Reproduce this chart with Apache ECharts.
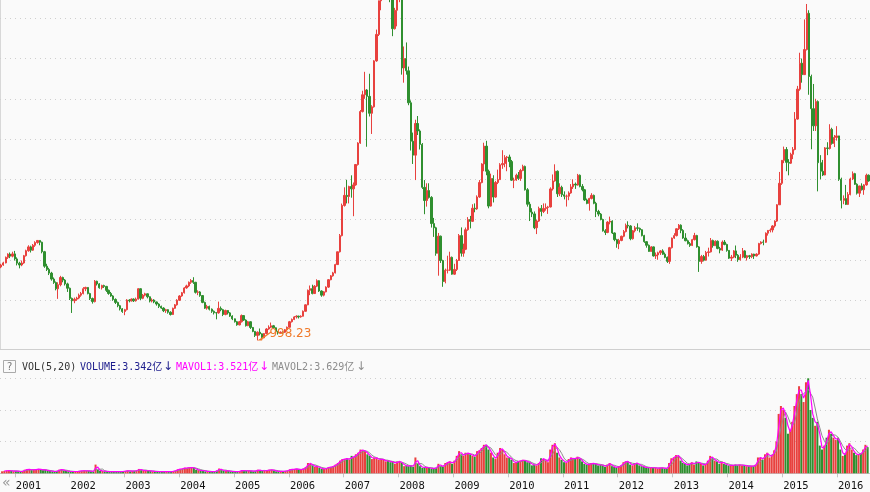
<!DOCTYPE html>
<html><head><meta charset="utf-8">
<script src="https://cdn.jsdelivr.net/npm/echarts@6/dist/echarts.min.js"></script>
<style>html,body{margin:0;padding:0;background:#fafafa;overflow:hidden}#c{width:870px;height:492px}</style>
</head><body><div id="c"></div>
<script>
// Shanghai Composite, half-month candles [open, close, low, high], Oct 2000 - Jul 2016
const firstYear = 2000, firstMonth = 10;
const halfMonthDays = [8, 23];
const k2000 = [[1910,1935,1895,1950],[1935,1961,1925,1975],[1961,2030,1955,2040],[2030,2070,2010,2080],[2070,2045,2020,2090],[2045,2073,2030,2100]];
const k2001 = [[2073,2010,1990,2110],[2010,1958,1930,2030],[1958,1935,1893,1975],[1935,1960,1920,1990],[1960,2050,1950,2060],[2050,2112,2040,2125],[2112,2160,2100,2180],[2160,2119,2090,2175],[2119,2180,2110,2195],[2180,2214,2160,2230],[2214,2240,2200,2245],[2240,2218,2180,2242],[2218,2100,2080,2225],[2100,1920,1900,2110],[1920,1880,1860,1950],[1880,1834,1810,1900],[1834,1760,1740,1850],[1760,1718,1700,1780],[1718,1640,1620,1730],[1640,1690,1514,1720],[1690,1780,1670,1800],[1780,1747,1720,1790],[1747,1700,1680,1760],[1700,1646,1600,1715]];
const k2002 = [[1646,1520,1500,1655],[1520,1491,1339,1530],[1491,1510,1460,1530],[1510,1524,1490,1540],[1524,1560,1510,1580],[1560,1580,1540,1600],[1580,1640,1570,1660],[1640,1656,1610,1665],[1656,1580,1570,1660],[1580,1518,1500,1590],[1518,1480,1455,1530],[1480,1733,1470,1748],[1733,1700,1680,1740],[1700,1652,1640,1710],[1652,1680,1630,1690],[1680,1669,1650,1690],[1669,1620,1600,1675],[1620,1581,1565,1630],[1581,1550,1540,1600],[1550,1507,1490,1560],[1507,1470,1450,1520],[1470,1429,1410,1480],[1429,1390,1370,1440],[1390,1357,1340,1400]];
const k2003 = [[1357,1380,1311,1390],[1380,1499,1370,1510],[1499,1490,1470,1510],[1490,1511,1480,1520],[1511,1490,1475,1520],[1490,1511,1480,1530],[1511,1640,1505,1649],[1640,1521,1500,1645],[1521,1560,1510,1575],[1560,1577,1545,1590],[1577,1540,1520,1580],[1540,1487,1470,1545],[1487,1500,1470,1520],[1500,1476,1460,1510],[1476,1450,1430,1480],[1450,1421,1400,1460],[1421,1400,1390,1430],[1400,1367,1350,1410],[1367,1380,1340,1390],[1380,1348,1330,1385],[1348,1320,1307,1360],[1320,1397,1315,1405],[1397,1440,1390,1450],[1440,1497,1430,1510]];
const k2004 = [[1497,1550,1490,1560],[1550,1590,1540,1600],[1590,1650,1580,1660],[1650,1675,1640,1690],[1675,1720,1660,1730],[1720,1742,1700,1760],[1742,1720,1700,1783],[1720,1595,1580,1725],[1595,1600,1560,1620],[1600,1555,1540,1610],[1555,1470,1460,1560],[1470,1399,1390,1480],[1399,1420,1380,1440],[1420,1386,1370,1430],[1386,1360,1340,1395],[1360,1342,1320,1370],[1342,1340,1260,1350],[1340,1396,1330,1480],[1396,1380,1360,1420],[1380,1320,1300,1390],[1320,1370,1310,1380],[1370,1340,1320,1375],[1340,1300,1290,1350],[1300,1266,1250,1310]];
const k2005 = [[1266,1230,1220,1270],[1230,1191,1180,1240],[1191,1230,1185,1240],[1230,1306,1220,1320],[1306,1250,1240,1310],[1250,1181,1170,1260],[1181,1230,1175,1240],[1230,1159,1140,1235],[1159,1110,1100,1165],[1110,1060,1040,1115],[1060,1100,998.23,1110],[1100,1080,1060,1146],[1080,1030,1004,1085],[1030,1083,1025,1090],[1083,1140,1075,1150],[1140,1162,1130,1185],[1162,1180,1150,1220],[1180,1155,1140,1190],[1155,1110,1100,1160],[1110,1092,1070,1115],[1092,1100,1085,1110],[1100,1099,1080,1110],[1099,1130,1090,1140],[1130,1161,1120,1170]];
const k2006 = [[1161,1230,1160,1240],[1230,1258,1220,1270],[1258,1290,1250,1300],[1290,1299,1270,1310],[1299,1290,1270,1305],[1290,1298,1280,1310],[1298,1360,1295,1370],[1360,1440,1355,1445],[1440,1620,1435,1630],[1620,1641,1560,1680],[1641,1580,1570,1690],[1580,1672,1575,1685],[1672,1740,1660,1757],[1740,1612,1600,1745],[1612,1560,1540,1620],[1560,1601,1545,1610],[1601,1660,1595,1670],[1660,1752,1650,1760],[1752,1800,1745,1810],[1800,1837,1790,1850],[1837,1940,1830,1950],[1940,2099,1935,2100],[2099,2300,2090,2320],[2300,2675,2290,2698]];
const k2007 = [[2675,2800,2660,2900],[2800,2786,2700,2994],[2786,2910,2700,2920],[2910,2881,2771,3049],[2881,2930,2541,2960],[2930,3183,2920,3190],[3183,3450,3170,3460],[3450,3841,3440,3860],[3841,4050,3830,4100],[4050,4109,4000,4335],[4109,4030,3404,4120],[4030,3820,3780,4311],[3820,3900,3563,3920],[3900,4471,3890,4480],[4471,4800,4460,4860],[4800,5218,4780,5220],[5218,5300,5100,5400],[5300,5552,5290,5560],[5552,6030,5540,6100],[6030,5954,5460,6124],[5954,5300,5200,5950],[5300,4871,4778,5320],[4871,5100,4860,5130],[5100,5262,4900,5280]];
const k2008 = [[5262,5400,5200,5522],[5400,4383,4300,5450],[4383,4500,4200,4650],[4500,4348,4300,4700],[4348,3950,3920,4400],[3950,3473,3357,3980],[3473,3300,3190,3580],[3300,3693,2990,3740],[3693,3600,3550,3786],[3600,3433,3370,3620],[3433,2900,2880,3450],[2900,2736,2566,2990],[2736,2860,2660,2950],[2860,2775,2760,2950],[2775,2450,2400,2790],[2450,2397,2284,2520],[2397,2080,2050,2410],[2080,2293,1802,2333],[2293,1990,1960,2300],[1990,1729,1664,2000],[1729,1870,1707,1890],[1870,1871,1830,2050],[1871,2030,1860,2100],[2030,1821,1814,2040]];
const k2009 = [[1821,1880,1814,1950],[1880,1991,1860,2010],[1991,2300,1985,2320],[2300,2082,2040,2402],[2082,2130,2037,2200],[2130,2373,2120,2400],[2373,2500,2360,2530],[2500,2477,2390,2545],[2477,2640,2470,2690],[2640,2632,2590,2700],[2632,2780,2620,2800],[2780,2959,2770,2990],[2959,3190,2950,3200],[3190,3412,3100,3454],[3412,3100,3050,3478],[3100,2667,2639,3120],[2667,3010,2660,3070],[3010,2779,2712,3050],[2779,2960,2770,2980],[2960,2996,2940,3120],[2996,3180,2990,3200],[3180,3195,3130,3361],[3195,3270,3150,3300],[3270,3277,3100,3290]];
const k2010 = [[3277,3220,3150,3306],[3220,2989,2980,3240],[2989,2990,2890,3020],[2990,3051,2980,3070],[3051,3010,2990,3090],[3010,3109,2980,3130],[3109,3160,3100,3181],[3160,2870,2860,3170],[2870,2690,2660,2890],[2690,2592,2481,2720],[2592,2570,2530,2640],[2570,2398,2380,2600],[2398,2480,2319,2500],[2480,2638,2470,2660],[2638,2600,2540,2680],[2600,2638,2580,2700],[2638,2650,2610,2700],[2650,2656,2570,2670],[2656,2880,2650,2900],[2880,2979,2860,3060],[2979,3100,2970,3186],[3100,2820,2780,3110],[2820,2900,2790,2950],[2900,2808,2780,2920]];
const k2011 = [[2808,2790,2750,2850],[2790,2790,2661,2810],[2790,2830,2740,2850],[2830,2905,2820,2940],[2905,2940,2880,3000],[2940,2928,2880,2960],[2928,3050,2920,3067],[3050,2911,2900,3060],[2911,2870,2850,2940],[2870,2743,2730,2880],[2743,2700,2690,2760],[2700,2762,2610,2770],[2762,2800,2750,2827],[2800,2701,2690,2810],[2701,2600,2530,2720],[2600,2567,2540,2620],[2567,2500,2490,2580],[2500,2359,2350,2510],[2359,2340,2307,2380],[2340,2468,2330,2480],[2468,2480,2440,2536],[2480,2333,2320,2490],[2333,2250,2230,2340],[2250,2199,2149,2260]];
const k2012 = [[2199,2240,2132,2260],[2240,2292,2230,2300],[2292,2350,2280,2370],[2350,2428,2340,2450],[2428,2420,2390,2478],[2420,2262,2242,2430],[2262,2360,2250,2370],[2360,2397,2340,2420],[2397,2390,2360,2453],[2390,2373,2340,2400],[2373,2300,2290,2380],[2300,2225,2210,2310],[2225,2180,2150,2230],[2180,2103,2100,2190],[2103,2160,2100,2170],[2160,2047,2040,2165],[2047,2060,2010,2090],[2060,2086,2000,2100],[2086,2110,2060,2120],[2110,2069,2060,2130],[2069,2030,2020,2090],[2030,1980,1960,2040],[1980,2150,1949,2160],[2150,2269,2140,2276]];
const k2013 = [[2269,2300,2260,2330],[2300,2385,2290,2390],[2385,2430,2370,2444],[2430,2365,2330,2440],[2365,2270,2260,2380],[2270,2236,2230,2330],[2236,2200,2190,2250],[2200,2178,2160,2220],[2178,2250,2170,2260],[2250,2301,2240,2334],[2301,2160,2150,2310],[2160,1979,1849,2170],[1979,2040,1950,2060],[2040,1994,1980,2060],[1994,2090,1990,2110],[2090,2098,2040,2150],[2098,2240,2090,2270],[2240,2175,2150,2250],[2175,2230,2170,2242],[2230,2141,2130,2240],[2141,2120,2080,2160],[2120,2220,2110,2240],[2220,2190,2180,2245],[2190,2116,2100,2200]];
const k2014 = [[2116,2020,2010,2120],[2020,2033,1984,2060],[2033,2110,2020,2120],[2110,2056,2020,2177],[2056,2000,1974,2070],[2000,2033,1990,2070],[2033,2110,2020,2146],[2110,2026,2020,2120],[2026,2050,1990,2060],[2050,2039,2010,2060],[2039,2070,2020,2080],[2070,2048,2010,2075],[2048,2070,2040,2080],[2070,2201,2060,2210],[2201,2220,2190,2230],[2220,2217,2180,2250],[2217,2330,2210,2340],[2330,2364,2300,2370],[2364,2370,2340,2390],[2370,2420,2340,2430],[2420,2480,2400,2490],[2480,2683,2470,2690],[2683,2950,2680,3091],[2950,3235,2930,3240]];
const k2015 = [[3235,3370,3200,3406],[3370,3210,3100,3400],[3210,3200,3049,3250],[3200,3310,3190,3330],[3310,3370,3250,3400],[3370,3748,3360,3835],[3748,4120,3740,4160],[4120,4442,4100,4572],[4442,4300,4200,4500],[4300,4612,4300,4986],[4612,5062,4600,5178],[5062,4277,4050,5100],[4277,3877,3373,4300],[3877,3664,3600,4184],[3664,3965,3600,4000],[3965,3206,2850,3980],[3206,3100,3000,3300],[3100,3053,3040,3240],[3053,3390,3050,3400],[3390,3383,3300,3460],[3383,3620,3370,3684],[3620,3445,3430,3640],[3445,3520,3400,3550],[3520,3539,3480,3660]];
const k2016 = [[3539,3000,2980,3540],[3000,2738,2638,3020],[2738,2760,2690,2800],[2760,2688,2680,2930],[2688,2810,2680,2840],[2810,3004,2800,3020],[3004,3070,2990,3097],[3070,2938,2930,3080],[2938,2827,2810,2950],[2827,2917,2780,2920],[2917,2870,2860,2950],[2870,2930,2807,2940],[2930,3050,2920,3070],[3050,2979,2970,3060]];

// volume, 亿 (average per day in each half month)
const v2000 = [0.25,0.3,0.35,0.35,0.3,0.25];
const v2001 = [0.3,0.25,0.2,0.3,0.45,0.5,0.5,0.4,0.45,0.5,0.55,0.45,0.4,0.45,0.3,0.3,0.25,0.2,0.3,0.45,0.5,0.35,0.3,0.25];
const v2002 = [0.2,0.25,0.2,0.25,0.3,0.3,0.35,0.3,0.3,0.25,0.2,1.1,0.45,0.3,0.3,0.25,0.2,0.2,0.2,0.2,0.2,0.2,0.2,0.25];
const v2003 = [0.3,0.35,0.25,0.3,0.3,0.35,0.55,0.4,0.35,0.35,0.3,0.3,0.25,0.25,0.2,0.2,0.2,0.2,0.2,0.2,0.2,0.3,0.35,0.5];
const v2004 = [0.55,0.6,0.7,0.65,0.75,0.7,0.7,0.45,0.4,0.35,0.35,0.25,0.25,0.2,0.2,0.2,0.35,0.6,0.4,0.3,0.3,0.3,0.25,0.2];
const v2005 = [0.2,0.2,0.3,0.4,0.35,0.3,0.3,0.3,0.25,0.3,0.45,0.35,0.3,0.35,0.35,0.45,0.45,0.35,0.25,0.25,0.25,0.25,0.3,0.35];
const v2006 = [0.5,0.5,0.55,0.55,0.45,0.45,0.6,0.8,1.3,1.2,1.0,0.8,0.9,0.7,0.55,0.55,0.65,0.8,0.8,0.9,1.1,1.3,1.6,1.8];
const v2007 = [1.8,1.9,1.7,2.2,2.0,2.4,2.6,3.0,2.9,2.8,2.4,2.2,1.8,2.0,1.9,1.7,1.8,1.7,1.5,1.6,1.4,1.5,1.2,1.5];
const v2008 = [1.5,1.3,0.9,1.0,0.9,1.0,0.8,2.0,1.2,0.9,0.7,0.8,0.7,0.7,0.6,0.6,0.7,1.2,0.9,0.8,1.3,1.4,1.5,1.2];
const v2009 = [1.6,2.2,2.8,2.4,2.2,2.6,2.5,2.4,2.2,2.1,2.8,2.9,3.2,3.6,3.6,3.0,2.6,2.0,1.8,2.6,3.2,3.0,2.4,2.0];
const v2010 = [2.0,1.7,1.3,1.4,1.5,1.6,1.7,1.6,1.4,1.4,1.0,1.1,1.0,1.3,1.9,1.8,1.6,1.4,3.0,3.6,3.8,2.6,2.0,1.7];
const v2011 = [1.4,1.3,1.8,2.0,1.9,1.8,2.1,1.8,1.5,1.2,1.1,1.1,1.3,1.2,1.2,1.0,1.1,1.0,0.8,1.1,1.3,0.9,0.8,0.7];
const v2012 = [0.9,1.0,1.4,1.5,1.5,1.1,1.0,1.3,1.3,1.0,0.9,0.8,0.7,0.7,0.7,0.7,0.7,0.6,0.7,0.7,0.6,0.6,1.3,1.9];
const v2013 = [2.0,2.3,2.2,1.6,1.3,1.2,1.0,1.2,1.4,1.1,1.5,1.3,1.2,1.0,1.2,1.6,2.2,1.9,1.6,1.5,1.2,1.5,1.2,1.1];
const v2014 = [1.0,1.0,1.0,1.1,1.0,1.1,1.0,1.0,0.9,0.9,0.9,0.9,1.1,2.0,2.0,1.7,2.4,2.6,2.0,2.3,2.9,4.0,7.5,8.5];
const v2015 = [8.0,7.0,5.0,5.5,6.5,8.5,10.0,11.0,10.0,9.0,11.5,12.0,8.0,7.0,6.0,6.5,3.5,3.0,3.5,4.5,5.5,5.0,4.5,4.2];
const v2016 = [4.5,3.0,2.2,2.5,3.5,3.8,3.0,2.6,2.3,2.4,2.5,3.0,3.6,3.3];

const maWindows = [2, 4];
const headerTexts = ['VOL(5,20)', 'VOLUME:3.342亿', 'MAVOL1:3.521亿', 'MAVOL2:3.629亿'];

const candles = [].concat(k2000,k2001,k2002,k2003,k2004,k2005,k2006,k2007,k2008,k2009,k2010,k2011,k2012,k2013,k2014,k2015,k2016);
const vols = [].concat(v2000,v2001,v2002,v2003,v2004,v2005,v2006,v2007,v2008,v2009,v2010,v2011,v2012,v2013,v2014,v2015,v2016);
const dates = candles.map((c, i) => {
  const m = firstMonth - 1 + Math.floor(i / 2);
  const y = firstYear + Math.floor(m / 12);
  const mm = (m % 12) + 1;
  return y + '-' + String(mm).padStart(2, '0') + '-' + String(halfMonthDays[i % 2]).padStart(2, '0');
});
function movingAvg(arr, n) {
  return arr.map((v, i) => {
    if (i < n - 1) return [dates[i], null];
    let s = 0; for (let j = i - n + 1; j <= i; j++) s += arr[j];
    return [dates[i], +(s / n).toFixed(3)];
  });
}
// lowest low of the whole series (annotated point)
let minIdx = 0;
candles.forEach((c, i) => { if (c[2] < candles[minIdx][2]) minIdx = i; });
const minLow = candles[minIdx][2];

const UP = '#e8413e', DOWN = '#2f8f2f';
const kData = candles.map((c, i) => [dates[i]].concat(c));
const vData = vols.map((v, i) => ({ value: [dates[i], v], itemStyle: { color: candles[i][1] >= candles[i][0] ? UP : DOWN } }));

const chart = echarts.init(document.getElementById('c'));
const dotted = { show: true, lineStyle: { color: '#cfcfcf', type: [1, 4], width: 1 } };
const tMin = '2000-10-01', tMax = '2016-08-01';
const YEAR = 365 * 24 * 3600 * 1000;
chart.setOption({
  backgroundColor: '#fafafa',
  animation: false,
  grid: [
    { left: 0, right: 0, top: 18.3, height: 281.7 },
    { left: 0, right: 0, top: 378.3, height: 95 }
  ],
  xAxis: [
    { type: 'time', gridIndex: 0, min: tMin, max: tMax, show: false, splitLine: { show: false } },
    { type: 'time', gridIndex: 1, min: tMin, max: tMax, minInterval: YEAR, maxInterval: YEAR,
      axisLine: { show: true, lineStyle: { color: '#c4c4c4' } },
      axisTick: { show: true, length: 4, lineStyle: { color: '#c4c4c4' } },
      splitLine: { show: false },
      axisLabel: { formatter: '{yyyy}', color: '#111', fontFamily: '"DejaVu Sans Mono", monospace', fontSize: 10.5,
        align: 'left', margin: 7, padding: [0, 0, 0, 1], showMinLabel: false, showMaxLabel: false, hideOverlap: false } }
  ],
  yAxis: [
    { type: 'value', gridIndex: 0, min: 1500, max: 5000, interval: 500, axisLabel: { show: false },
      axisLine: { show: false }, axisTick: { show: false }, splitLine: dotted },
    { type: 'value', gridIndex: 1, min: 0, max: 12, interval: 4, axisLabel: { show: false },
      axisLine: { show: false }, axisTick: { show: false }, splitLine: dotted }
  ],
  series: [
    { type: 'candlestick', name: 'K', xAxisIndex: 0, yAxisIndex: 0, data: kData, clip: false, barWidth: 1.8,
      itemStyle: { color: UP, color0: DOWN, borderColor: UP, borderColor0: DOWN, borderWidth: 1 }
    },
    { type: 'scatter', name: 'low', xAxisIndex: 0, yAxisIndex: 0, clip: false, z: 5,
      data: [[dates[minIdx], minLow]],
      symbol: 'path://M0,9 L6,5.5 L4.5,9 Z M3.5,7.2 L13,1 L13.6,1.9 L4.2,8.2 Z',
      symbolSize: [14, 9], symbolOffset: [7, -4.5],
      itemStyle: { color: '#f07a2a', opacity: 1 },
      label: { show: true, position: [12, -4], color: '#f07a2a',
        fontFamily: '"DejaVu Sans", sans-serif', fontSize: 12, formatter: p => p.value[1].toFixed(2) },
      tooltip: { show: false }
    },
    { type: 'bar', name: 'VOL', xAxisIndex: 1, yAxisIndex: 1, data: vData, barWidth: 2 },
    { type: 'line', name: 'MAVOL1', xAxisIndex: 1, yAxisIndex: 1, data: movingAvg(vols, maWindows[0]),
      showSymbol: false, lineStyle: { color: '#ff00ff', width: 1.2 }, z: 4 },
    { type: 'line', name: 'MAVOL2', xAxisIndex: 1, yAxisIndex: 1, data: movingAvg(vols, maWindows[1]),
      showSymbol: false, lineStyle: { color: '#8c8c8c', width: 1 }, z: 3 }
  ],
  graphic: [
    { type: 'line', shape: { x1: 0.5, y1: 0, x2: 0.5, y2: 349 }, style: { stroke: '#d8d8d8', lineWidth: 1 } },
    { type: 'line', shape: { x1: 0, y1: 349.5, x2: 870, y2: 349.5 }, style: { stroke: '#cfcfcf', lineWidth: 1 } },
    { type: 'rect', shape: { x: 3.5, y: 360.5, width: 12, height: 12 }, style: { fill: '#fafafa', stroke: '#aaaaaa', lineWidth: 1 } },
    { type: 'text', x: 9.5, y: 367, style: { text: '?', fill: '#777', font: '10px "DejaVu Sans Mono", monospace', align: 'center', verticalAlign: 'middle' } },
    { type: 'text', x: 22, y: 367, style: { text: headerTexts[0], fill: '#333', font: '10px "DejaVu Sans Mono", monospace', verticalAlign: 'middle' } },
    { type: 'text', x: 80, y: 367, style: { text: headerTexts[1], fill: '#1c1c8c', font: '10px "DejaVu Sans Mono", "Noto Sans CJK SC", monospace', verticalAlign: 'middle' } },
    { type: 'text', x: 163, y: 367, style: { text: '↓', fill: '#1c1c8c', font: '12px "DejaVu Sans", sans-serif', verticalAlign: 'middle' } },
    { type: 'text', x: 176, y: 367, style: { text: headerTexts[2], fill: '#ff00ff', font: '10px "DejaVu Sans Mono", "Noto Sans CJK SC", monospace', verticalAlign: 'middle' } },
    { type: 'text', x: 259, y: 367, style: { text: '↓', fill: '#ff00ff', font: '12px "DejaVu Sans", sans-serif', verticalAlign: 'middle' } },
    { type: 'text', x: 272, y: 367, style: { text: headerTexts[3], fill: '#8c8c8c', font: '10px "DejaVu Sans Mono", "Noto Sans CJK SC", monospace', verticalAlign: 'middle' } },
    { type: 'text', x: 356, y: 367, style: { text: '↓', fill: '#8c8c8c', font: '12px "DejaVu Sans", sans-serif', verticalAlign: 'middle' } },
    { type: 'text', x: 2, y: 483, style: { text: '«', fill: '#9a9a9a', font: '14px "DejaVu Sans", sans-serif', verticalAlign: 'middle' } }
  ]
});
</script>
</body></html>
